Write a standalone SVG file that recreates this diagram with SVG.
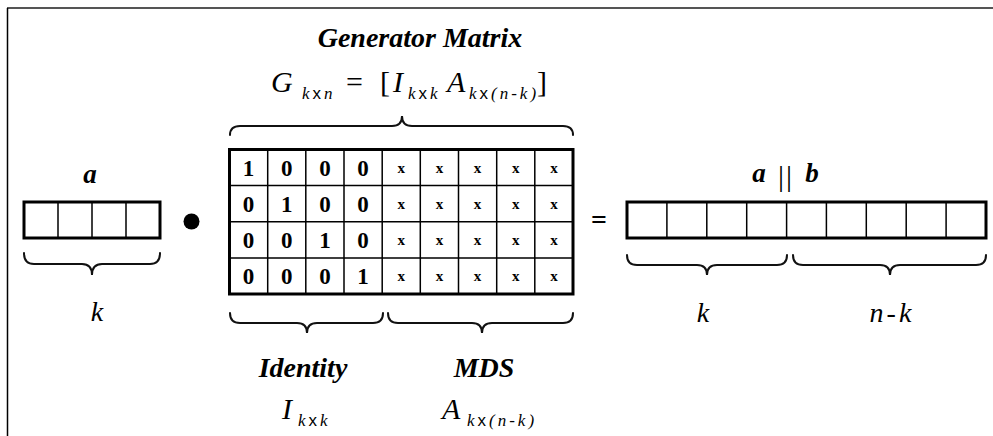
<svg xmlns="http://www.w3.org/2000/svg" width="993" height="436" viewBox="0 0 993 436">
<style>
.serif{font-family:"Liberation Serif","Times New Roman",serif;fill:#000}
.bi{font-weight:bold;font-style:italic}
.it{font-style:italic}
.up{font-style:normal}
.sub{font-size:17px;letter-spacing:3px}
.sans{font-family:"Liberation Sans",Arial,sans-serif;font-style:normal}
.outer{fill:#fff;stroke:#000;stroke-width:3}
.inner{stroke:#000;stroke-width:1.5;fill:none}
.brace{fill:none;stroke:#111;stroke-width:2;stroke-linecap:round}
.dig{font-family:"Liberation Serif","Times New Roman",serif;font-weight:bold;font-size:23px;text-anchor:middle}
.xx{font-family:"Liberation Serif","Times New Roman",serif;font-weight:bold;font-size:15px;text-anchor:middle}
</style>
<rect x="0" y="0" width="993" height="436" fill="#fff"/>
<g id="frame">
<line x1="7" y1="8" x2="993" y2="8" stroke="#555" stroke-width="2"/>
<line x1="7.5" y1="8" x2="7.5" y2="436" stroke="#000" stroke-width="1.5"/>
</g>

<g id="title">
<text class="serif bi" x="420" y="47" font-size="28" text-anchor="middle">Generator Matrix</text>
<g class="serif it" font-size="30">
<text x="271" y="92">G</text>
<text class="sub" x="302" y="99">k<tspan class="sans">x</tspan>n</text>
<text class="up" x="346" y="92">=</text>
<text class="up" x="380" y="92">[</text>
<text x="393" y="92">I</text>
<text class="sub" x="408" y="99">k<tspan class="sans">x</tspan>k</text>
<text x="447" y="92">A</text>
<text class="sub" x="469" y="99">k<tspan class="sans">x</tspan>(n-k)</text>
<text class="up" x="537" y="92">]</text>
</g>
</g>

<g id="vector-a">
<text class="serif bi" x="90" y="183" font-size="27" text-anchor="middle">a</text>
<rect class="outer" x="24" y="202" width="136" height="36" stroke-width="2.5"/>
<path class="inner" d="M58 202V238M92 202V238M126 202V238" stroke-width="1.2"/>
</g>

<g id="dot">
<circle cx="191.5" cy="221.5" r="8" fill="#000"/>
</g>

<g id="matrix">
<rect class="outer" x="229.5" y="149.5" width="343.5" height="144.5"/>
<path class="inner" d="M267.7 149.5V294M305.8 149.5V294M344 149.5V294M382.2 149.5V294M420.3 149.5V294M458.5 149.5V294M496.7 149.5V294M534.8 149.5V294M229.5 185.6H573M229.5 221.7H573M229.5 257.9H573"/>
<g class="dig">
<text x="248.6" y="175.5">1</text><text x="286.8" y="175.5">0</text><text x="324.9" y="175.5">0</text><text x="363.1" y="175.5">0</text>
<text x="248.6" y="211.5">0</text><text x="286.8" y="211.5">1</text><text x="324.9" y="211.5">0</text><text x="363.1" y="211.5">0</text>
<text x="248.6" y="247.5">0</text><text x="286.8" y="247.5">0</text><text x="324.9" y="247.5">1</text><text x="363.1" y="247.5">0</text>
<text x="248.6" y="283.5">0</text><text x="286.8" y="283.5">0</text><text x="324.9" y="283.5">0</text><text x="363.1" y="283.5">1</text>
</g>
<g class="xx">
<text x="401.2" y="172.5">x</text><text x="439.4" y="172.5">x</text><text x="477.6" y="172.5">x</text><text x="515.7" y="172.5">x</text><text x="553.9" y="172.5">x</text>
<text x="401.2" y="208.5">x</text><text x="439.4" y="208.5">x</text><text x="477.6" y="208.5">x</text><text x="515.7" y="208.5">x</text><text x="553.9" y="208.5">x</text>
<text x="401.2" y="244.5">x</text><text x="439.4" y="244.5">x</text><text x="477.6" y="244.5">x</text><text x="515.7" y="244.5">x</text><text x="553.9" y="244.5">x</text>
<text x="401.2" y="280.5">x</text><text x="439.4" y="280.5">x</text><text x="477.6" y="280.5">x</text><text x="515.7" y="280.5">x</text><text x="553.9" y="280.5">x</text>
</g>
</g>

<g id="equals">
<text class="serif" x="599" y="229" font-size="28" font-weight="bold" text-anchor="middle">=</text>
</g>

<g id="vector-ab">
<text class="serif bi" x="759" y="182" font-size="27" text-anchor="middle">a</text>
<text class="serif" x="786" y="186" font-size="30" text-anchor="middle" letter-spacing="2">||</text>
<text class="serif bi" x="812" y="182" font-size="27" text-anchor="middle">b</text>
<rect class="outer" x="627" y="202" width="359" height="36" stroke-width="2.5"/>
<path class="inner" d="M666.9 202V238M706.8 202V238M746.7 202V238M786.6 202V238M826.4 202V238M866.3 202V238M906.2 202V238M946.1 202V238" stroke-width="1.2"/>
</g>

<g id="braces">
<path class="brace" d="M24 253Q24 264 34 264L82 264Q92 264 92 275Q92 264 102 264L150 264Q160 264 160 253"/>
<path class="brace" d="M230 135Q230 126 240 126L392 126Q402 126 402 116Q402 126 412 126L563 126Q573 126 573 135"/>
<path class="brace" d="M230 313Q230 323 240 323L297 323Q307 323 307 333Q307 323 317 323L373 323Q383 323 383 313"/>
<path class="brace" d="M388 313Q388 323 398 323L472 323Q482 323 482 333Q482 323 492 323L563 323Q573 323 573 313"/>
<path class="brace" d="M627 255Q627 265 637 265L697 265Q707 265 707 275Q707 265 717 265L777 265Q787 265 787 255"/>
<path class="brace" d="M793 255Q793 265 803 265L880 265Q890 265 890 275Q890 265 900 265L976 265Q986 265 986 255"/>
</g>

<g id="labels">
<text class="serif it" x="97" y="321" font-size="28" text-anchor="middle">k</text>
<text class="serif it" x="703" y="322" font-size="28" text-anchor="middle">k</text>
<text class="serif it" x="892" y="322" font-size="28" text-anchor="middle" letter-spacing="3">n-k</text>
<text class="serif bi" x="303" y="377" font-size="28" text-anchor="middle">Identity</text>
<text class="serif bi" x="484" y="377" font-size="28" text-anchor="middle">MDS</text>
<g class="serif it" font-size="30">
<text x="282" y="419">I</text>
<text class="sub" x="298" y="426">k<tspan class="sans">x</tspan>k</text>
<text x="442" y="419">A</text>
<text class="sub" x="467" y="426">k<tspan class="sans">x</tspan>(n-k)</text>
</g>
</g>
</svg>
